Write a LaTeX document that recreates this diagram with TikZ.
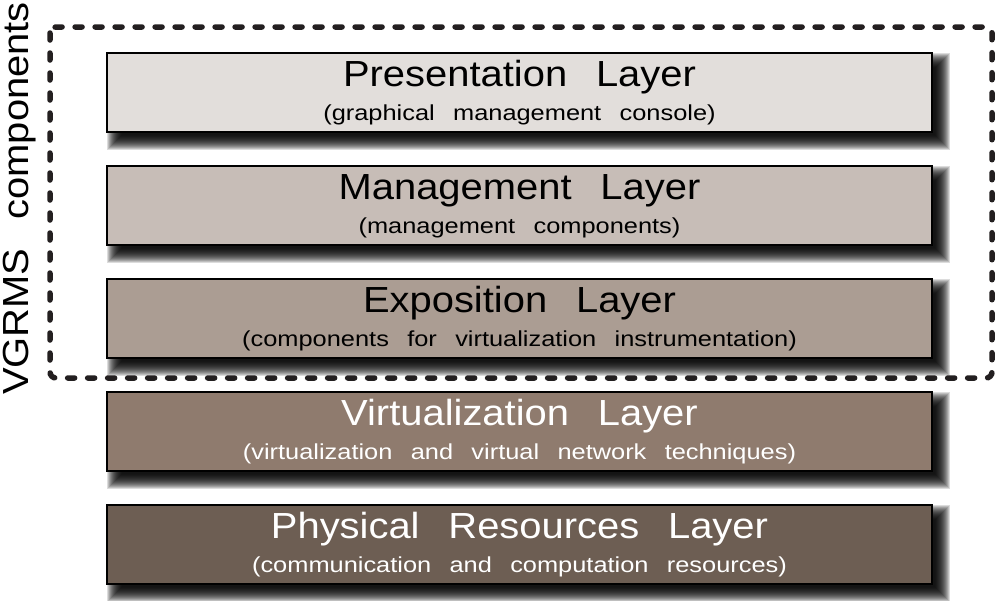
\documentclass[tikz,border=0pt]{standalone}
\usepackage{fontspec}
\setmainfont{Liberation Sans}
\newfontfamily\titlefont[FakeStretch=1.1,WordSpace=2.6]{Liberation Sans}
\newfontfamily\subfont[FakeStretch=1.17,WordSpace=2.6]{Liberation Sans}
\usetikzlibrary{calc}
\definecolor{cA}{HTML}{E2DEDB}
\definecolor{cB}{HTML}{C7BDB7}
\definecolor{cC}{HTML}{AB9D93}
\definecolor{cD}{HTML}{8F7B6E}
\definecolor{cE}{HTML}{6D5E53}
\definecolor{dashcol}{HTML}{231F20}
\pgfdeclarelayer{bg}
\pgfdeclarelayer{shadowlayer}
\pgfsetlayers{bg,shadowlayer,main}
\tikzset{
  layerbox/.style={draw=black, line width=2.5pt, minimum width=825pt, minimum height=79pt, inner sep=0pt},
  ttl/.style={anchor=base, inner sep=0pt, font=\titlefont\fontsize{36.3}{40}\selectfont},
  sub/.style={anchor=base, inner sep=0pt, font=\subfont\fontsize{21.7}{25}\selectfont},
  dashbox/.style={draw=dashcol, line width=5.5pt, line cap=round, dash pattern=on 7pt off 13pt, rounded corners=6pt},
  vlabel/.style={rotate=90, anchor=base west, inner sep=0pt, font=\titlefont\fontsize{36.3}{40}\selectfont}
}
\newcommand\layershadow[1]{%
  \begin{pgfonlayer}{shadowlayer}
  \foreach \k in {-7,-6.5,...,8}{%
    \fill[black, opacity=0.07] ($(#1.north west)+(9-\k,9-\k)$) rectangle ($(#1.south east)+(9+\k,9+\k)$);
  }
  \end{pgfonlayer}}
\begin{document}
\begin{tikzpicture}[x=1pt, y=-1pt]
\useasboundingbox (0,0) rectangle (996,600);
\begin{pgfonlayer}{bg}
\fill[white] (0,0) rectangle (996,600);
\end{pgfonlayer}
% dashed frame
\draw[dashbox] (50,27) rectangle (992,378);
% layer boxes
\node[layerbox, fill=cA] (pres) at (519.5,92.5) {};
\node[layerbox, fill=cB] (mgmt) at (519.5,205.5) {};
\node[layerbox, fill=cC] (expo) at (519.5,318.5) {};
\node[layerbox, fill=cD] (virt) at (519.5,431.5) {};
\node[layerbox, fill=cE] (phys) at (519.5,544.5) {};
\layershadow{pres}
\layershadow{mgmt}
\layershadow{expo}
\layershadow{virt}
\layershadow{phys}
% texts
\node[ttl] (presT) at ($(pres.north)+(0,35)$) {Presentation Layer};
\node[sub] (presS) at ($(pres.north)+(0,68.5)$) {(graphical management console)};
\node[ttl] (mgmtT) at ($(mgmt.north)+(0,35)$) {Management Layer};
\node[sub] (mgmtS) at ($(mgmt.north)+(0,68.5)$) {(management components)};
\node[ttl] (expoT) at ($(expo.north)+(0,35)$) {Exposition Layer};
\node[sub] (expoS) at ($(expo.north)+(0,68.5)$) {(components for virtualization instrumentation)};
\node[ttl, text=white] (virtT) at ($(virt.north)+(0,35)$) {Virtualization Layer};
\node[sub, text=white] (virtS) at ($(virt.north)+(0,68.5)$) {(virtualization and virtual network techniques)};
\node[ttl, text=white] (physT) at ($(phys.north)+(0,35)$) {Physical Resources Layer};
\node[sub, text=white] (physS) at ($(phys.north)+(0,68.5)$) {(communication and computation resources)};
% vertical label
\node[vlabel] (vg) at (28,395) {VGRMS components};
\end{tikzpicture}
\end{document}
